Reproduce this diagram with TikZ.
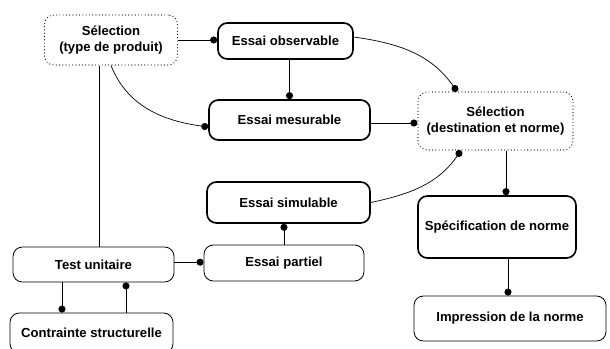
\documentclass[tikz,border=0pt]{standalone}
\usepackage{fontspec}
\setmainfont{Liberation Sans}
\usetikzlibrary{arrows.meta}

\begin{document}
\begin{tikzpicture}[
    font=\fontsize{11.2}{13.2}\selectfont\bfseries,
    heavybox/.style={rectangle, draw, line width=1.4pt, rounded corners=8pt, align=center},
    lightbox/.style={rectangle, draw, line width=0.7pt, rounded corners=8pt, align=center},
    dotbox/.style={rectangle, draw, line width=1pt, line cap=round, dash pattern=on 0pt off 2.8pt, rounded corners=8pt, align=center},
    link/.style={line width=0.6pt},
    dotlink/.style={line width=0.6pt, -{Circle[length=6pt]}}
]
    \useasboundingbox (0,0) rectangle (18.3,-10.44);

    % Selections
    \node[dotbox, minimum width=3.99cm, minimum height=1.5cm] (sel1) at (3.33,-1.2) {S\'election\\(type de produit)};
    \node[dotbox, minimum width=4.65cm, minimum height=1.74cm] (sel2) at (14.865,-3.63) {S\'election\\(destination et norme)};

    % Essais
    \node[heavybox, minimum width=4.05cm, minimum height=1.08cm] (obs) at (8.565,-1.23) {Essai observable};
    \node[heavybox, minimum width=4.83cm, minimum height=1.2cm] (mes) at (8.685,-3.6) {Essai mesurable};
    \node[heavybox, minimum width=4.89cm, minimum height=1.23cm] (sim) at (8.655,-6.075) {Essai simulable};
    \node[lightbox, minimum width=4.8cm, minimum height=1.08cm] (part) at (8.52,-7.89) {Essai partiel};

    % Test
    \node[lightbox, minimum width=4.83cm, minimum height=1.05cm] (test) at (2.805,-7.935) {Test unitaire};
    \node[lightbox, minimum width=4.89cm, minimum height=1.2cm] (contr) at (2.745,-9.99) {Contrainte structurelle};

    % Norme
    \node[heavybox, minimum width=4.74cm, minimum height=1.86cm] (spec) at (14.91,-6.81) {Sp\'ecification de norme};
    \node[lightbox, minimum width=5.76cm, minimum height=1.35cm] (impr) at (15.3,-9.555) {Impression de la norme};

    % Links
    \draw[dotlink] (sel1.east) -- (sel1.east -| obs.west);
    \draw[dotlink] (mes.north |- obs.south) -- (mes.north);
    \draw[dotlink] (sel1.south) to[out=-68,in=172] ([yshift=-0.21cm]mes.west);
    \draw[link] ([xshift=-0.36cm]sel1.south) -- ([xshift=-0.36cm]sel1.south |- test.north);
    \draw[dotlink] ([yshift=0.12cm]obs.east) to[out=-8,in=125] ([xshift=-1.155cm]sel2.north);
    \draw[dotlink] ([yshift=-0.09cm]mes.east) -- ([yshift=-0.09cm]mes.east -| sel2.west);
    \draw[dotlink] (sim.east) to[out=12,in=-125] ([xshift=-1.035cm]sel2.south);
    \draw[{Circle[length=6pt]}-, line width=0.6pt] (part.north |- sim.south) -- (part.north);
    \draw[dotlink] ([yshift=0.07cm]test.east) -- ([yshift=0.07cm]test.east -| part.west);
    \draw[dotlink] ([xshift=-0.945cm]test.south) -- ([xshift=-0.945cm]test.south |- contr.north);
    \draw[dotlink] ([xshift=0.975cm]test.south |- contr.north) -- ([xshift=0.975cm]test.south);
    \draw[dotlink] ([xshift=0.315cm]sel2.south) -- ([xshift=0.315cm]sel2.south |- spec.north);
    \draw[dotlink] ([xshift=0.33cm]spec.south) -- ([xshift=0.33cm]spec.south |- impr.north);
\end{tikzpicture}
\end{document}
